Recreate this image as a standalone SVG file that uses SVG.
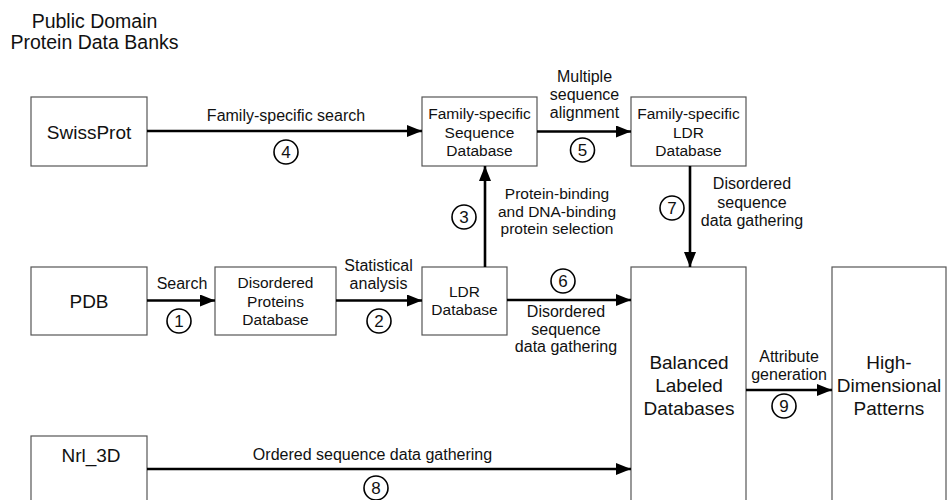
<svg xmlns="http://www.w3.org/2000/svg" width="947" height="500" viewBox="0 0 947 500">
<defs>
<marker id="ah" markerUnits="userSpaceOnUse" markerWidth="15" markerHeight="12" refX="15" refY="6" orient="auto">
<path d="M0,0 L15,6 L0,12 z" fill="#000"/>
</marker>
<style>
text{font-family:"Liberation Sans",Arial,sans-serif;fill:#111;text-anchor:middle}
.box{fill:#fff;stroke:#555;stroke-width:1.2}
.big{font-size:19px}
.bx{font-size:15.5px}
.lb{font-size:16px}
.title{font-size:19.5px}
.num{font-size:17px}
.circ{fill:#fff;stroke:#000;stroke-width:1.6}
.arr{stroke:#000;stroke-width:2.6;fill:none;marker-end:url(#ah)}
</style>
</defs>
<rect width="947" height="500" fill="#fff"/>

<g id="title">
<text class="title" x="94.5" y="28">Public Domain</text>
<text class="title" x="94.5" y="49">Protein Data Banks</text>
</g>

<g id="swissprot">
<rect class="box" x="31" y="97" width="116" height="69"/>
<text class="big" x="89" y="139">SwissProt</text>
</g>
<g id="pdb">
<rect class="box" x="31" y="267" width="116" height="68"/>
<text class="big" x="89" y="308">PDB</text>
</g>
<g id="nrl3d">
<rect class="box" x="31" y="436" width="116" height="80"/>
<text class="big" x="91" y="462">Nrl_3D</text>
</g>
<g id="disordered-proteins-db">
<rect class="box" x="215" y="267" width="121" height="68"/>
<text class="bx" x="275.5" y="288">Disordered</text>
<text class="bx" x="275.5" y="306.5">Proteins</text>
<text class="bx" x="275.5" y="325">Database</text>
</g>
<g id="ldr-db">
<rect class="box" x="422" y="267" width="85" height="68"/>
<text class="bx" x="464.5" y="297">LDR</text>
<text class="bx" x="464.5" y="315">Database</text>
</g>
<g id="family-seq-db">
<rect class="box" x="422" y="97" width="115" height="69"/>
<text class="bx" x="479.5" y="119">Family-specific</text>
<text class="bx" x="479.5" y="137.5">Sequence</text>
<text class="bx" x="479.5" y="156">Database</text>
</g>
<g id="family-ldr-db">
<rect class="box" x="631" y="97" width="115" height="69"/>
<text class="bx" x="688.5" y="119">Family-specific</text>
<text class="bx" x="688.5" y="137.5">LDR</text>
<text class="bx" x="688.5" y="156">Database</text>
</g>
<g id="balanced-db">
<rect class="box" x="631" y="267" width="115" height="250"/>
<text class="big" x="689" y="369">Balanced</text>
<text class="big" x="689" y="392">Labeled</text>
<text class="big" x="689" y="415">Databases</text>
</g>
<g id="high-dim">
<rect class="box" x="832" y="267" width="114" height="250"/>
<text class="big" x="889" y="369">High-</text>
<text class="big" x="889" y="392">Dimensional</text>
<text class="big" x="889" y="415">Patterns</text>
</g>

<g id="connectors">
<line class="arr" x1="147" y1="131" x2="422" y2="131"/>
<line class="arr" x1="537" y1="131.5" x2="631" y2="131.5"/>
<line class="arr" x1="485" y1="267" x2="485" y2="166"/>
<line class="arr" x1="690" y1="166" x2="690" y2="267"/>
<line class="arr" x1="147" y1="300.5" x2="215" y2="300.5"/>
<line class="arr" x1="336" y1="300.5" x2="422" y2="300.5"/>
<line class="arr" x1="507" y1="300" x2="631" y2="300"/>
<line class="arr" x1="147" y1="469" x2="631" y2="469"/>
<line class="arr" x1="746" y1="390" x2="832" y2="390"/>
</g>

<g id="labels">
<text class="lb" x="286" y="121">Family-specific search</text>
<text class="lb" x="584.5" y="82">Multiple</text>
<text class="lb" x="584.5" y="100">sequence</text>
<text class="lb" x="584.5" y="118">alignment</text>
<text class="bx" x="557" y="199">Protein-binding</text>
<text class="bx" x="557" y="216.5">and DNA-binding</text>
<text class="bx" x="557" y="234">protein selection</text>
<text class="lb" x="752" y="189">Disordered</text>
<text class="lb" x="752" y="207.5">sequence</text>
<text class="lb" x="752" y="226">data gathering</text>
<text class="lb" x="182" y="289">Search</text>
<text class="lb" x="378.5" y="271">Statistical</text>
<text class="lb" x="378.5" y="289">analysis</text>
<text class="lb" x="566" y="316.5">Disordered</text>
<text class="lb" x="566" y="334.5">sequence</text>
<text class="lb" x="566" y="352">data gathering</text>
<text class="lb" x="372.5" y="460">Ordered sequence data gathering</text>
<text class="lb" x="789" y="362">Attribute</text>
<text class="lb" x="789" y="379.5">generation</text>
</g>

<g id="step-numbers">
<circle class="circ" cx="179" cy="321" r="12"/><text class="num" x="179" y="327">1</text>
<circle class="circ" cx="379" cy="321" r="12"/><text class="num" x="379" y="327">2</text>
<circle class="circ" cx="464" cy="217" r="12"/><text class="num" x="464" y="223">3</text>
<circle class="circ" cx="286" cy="152" r="12"/><text class="num" x="286" y="158">4</text>
<circle class="circ" cx="582.5" cy="150" r="12"/><text class="num" x="582.5" y="156">5</text>
<circle class="circ" cx="563" cy="281" r="12"/><text class="num" x="563" y="287">6</text>
<circle class="circ" cx="672" cy="208" r="12"/><text class="num" x="672" y="214">7</text>
<circle class="circ" cx="376" cy="488" r="12"/><text class="num" x="376" y="494">8</text>
<circle class="circ" cx="784" cy="406" r="12"/><text class="num" x="784" y="412">9</text>
</g>
</svg>
